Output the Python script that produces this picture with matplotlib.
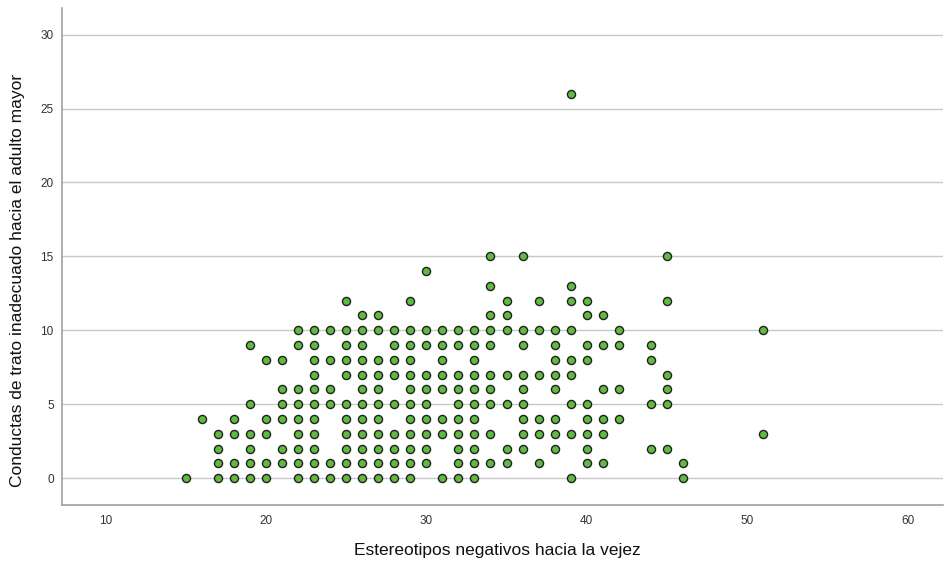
import matplotlib
matplotlib.use("Agg")
import matplotlib.pyplot as plt

# x value -> list of y values observed at that x
x_values = [15, 16, 17, 18, 19, 20, 21, 22, 23, 24, 25, 26, 27, 28, 29, 30,
            31, 32, 33, 34, 35, 36, 37, 38, 39, 40, 41, 42, 44, 45, 46, 51]
y_lists = [
    [0],
    [4],
    [3, 2, 1, 0],
    [4, 3, 1, 0],
    [9, 5, 3, 2, 1, 0],
    [8, 4, 3, 1, 0],
    [8, 6, 5, 4, 2, 1],
    [10, 9, 6, 5, 4, 3, 2, 1, 0],
    [10, 9, 8, 7, 6, 5, 4, 3, 2, 1, 0],
    [10, 8, 6, 5, 1, 0],
    [12, 10, 9, 8, 7, 5, 4, 3, 2, 1, 0],
    [11, 10, 9, 8, 7, 6, 5, 4, 3, 2, 1, 0],
    [11, 10, 8, 7, 6, 5, 4, 3, 2, 1, 0],
    [10, 9, 8, 7, 5, 3, 2, 1, 0],
    [12, 10, 9, 8, 7, 6, 5, 4, 3, 2, 1, 0],
    [14, 10, 9, 7, 6, 5, 4, 3, 2, 1],
    [10, 9, 8, 7, 6, 4, 3, 0],
    [10, 9, 7, 6, 5, 4, 3, 2, 1, 0],
    [10, 9, 8, 7, 6, 5, 4, 3, 2, 1, 0],
    [15, 13, 11, 10, 9, 7, 6, 5, 3, 1],
    [12, 11, 10, 7, 5, 2, 1],
    [15, 10, 9, 7, 6, 5, 4, 3, 2],
    [12, 10, 7, 4, 3, 1],
    [10, 9, 8, 7, 6, 4, 3, 2],
    [26, 13, 12, 10, 8, 7, 5, 3, 0],
    [12, 11, 9, 8, 5, 4, 3, 2, 1],
    [11, 9, 6, 4, 3, 1],
    [10, 9, 6, 4],
    [9, 8, 5, 2],
    [15, 12, 7, 6, 5, 2],
    [1, 0],
    [10, 3],
]

x_ticks = [10, 20, 30, 40, 50, 60]
y_ticks = [0, 5, 10, 15, 20, 25, 30]
x_label = "Estereotipos negativos hacia la vejez"
y_label = "Conductas de trato inadecuado hacia el adulto mayor"

xs, ys = [], []
for xv, yl in zip(x_values, y_lists):
    for yv in yl:
        xs.append(xv)
        ys.append(yv)

plt.rcParams['font.family'] = ['Liberation Sans', 'DejaVu Sans']

fig = plt.figure(figsize=(9.44, 5.63), dpi=100)
ax_left, ax_bottom_px, ax_top_px = 62, 505, 8
ax = fig.add_axes([ax_left/944, 1 - ax_bottom_px/563, 1 - ax_left/944 - 1/944,
                   (ax_bottom_px - ax_top_px)/563])

ax.set_xlim(7.3, 62.2)
ax.set_ylim(-1.82, 31.8)

for yt in y_ticks:
    ax.axhline(yt, color='#c8c8c8', lw=1.0, zorder=1)

ax.scatter(xs, ys, s=34, c='#5fba40', edgecolors='#202020', linewidths=1.0, zorder=3)

ax.set_xticks(x_ticks)
ax.set_yticks(y_ticks)
ax.tick_params(axis='both', length=0, labelsize=8.5, colors='#333333')
ax.tick_params(axis='x', pad=7)
ax.tick_params(axis='y', pad=6)

for s in ['top', 'right']:
    ax.spines[s].set_visible(False)
for s in ['left', 'bottom']:
    ax.spines[s].set_color('#a0a0a0')
    ax.spines[s].set_linewidth(1.2)

ax.set_xlabel(x_label, fontsize=12.5, color='#111111', va='center')
ax.set_ylabel(y_label, fontsize=12.5, color='#111111', va='center')
h = ax_bottom_px - ax_top_px
w = 944 - ax_left - 1
ax.xaxis.set_label_coords((497 - ax_left) / w, (ax_bottom_px - 551) / h)
ax.yaxis.set_label_coords((18 - ax_left) / w, (ax_bottom_px - 280) / h)

fig.savefig('out.png', dpi=100)
